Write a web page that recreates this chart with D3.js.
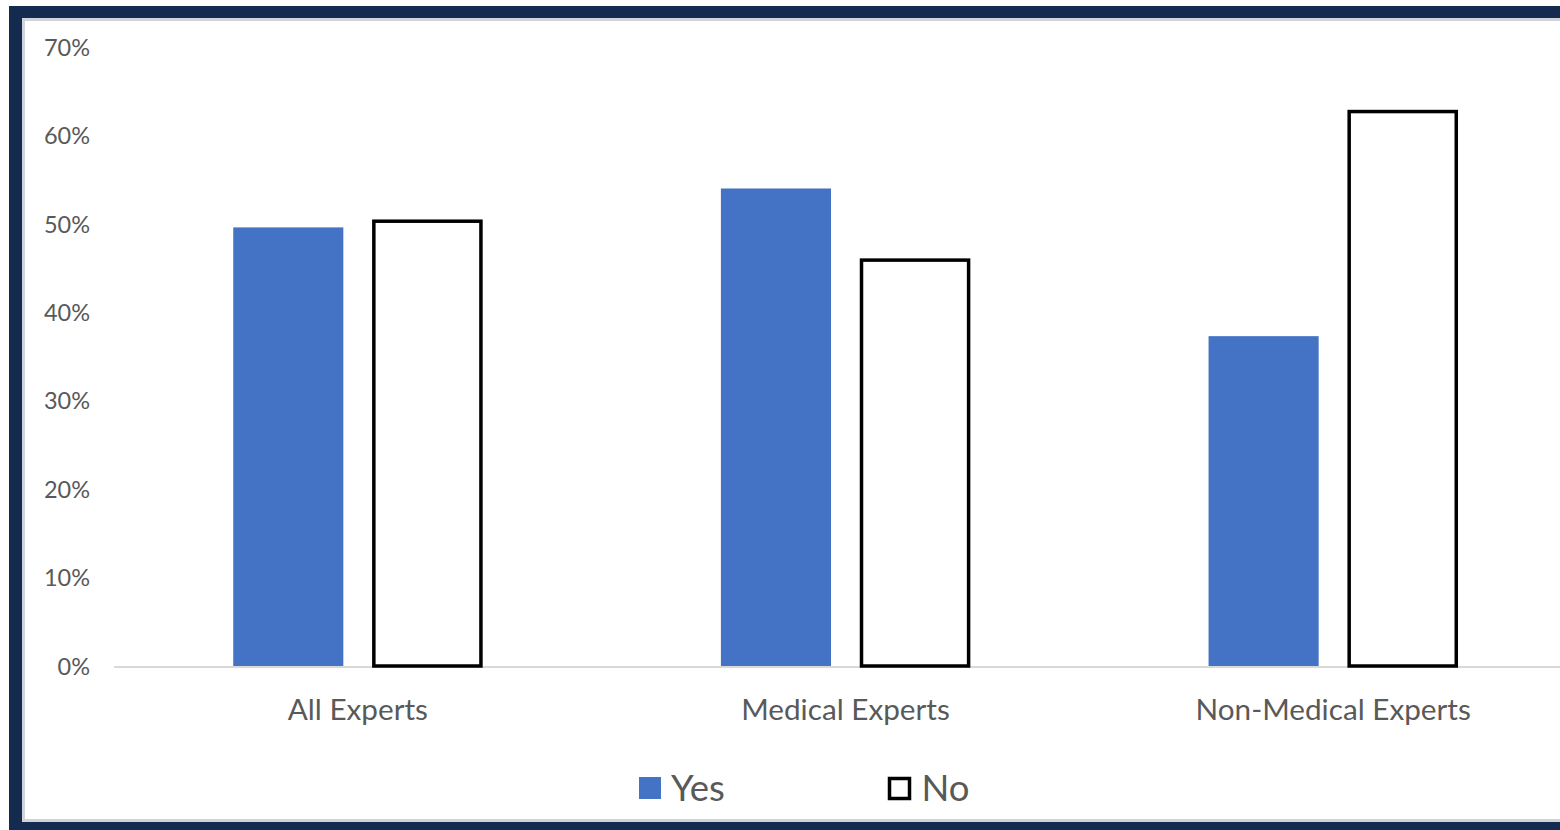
<!DOCTYPE html>
<html><head><meta charset="utf-8">
<script src="https://cdn.jsdelivr.net/npm/d3@7"></script>
<style>html,body{margin:0;padding:0;background:#fff;overflow:hidden}</style>
</head><body>
<svg id="chart" width="1560" height="830"></svg>
<script>
const categories = ["All Experts", "Medical Experts", "Non-Medical Experts"];
const seriesNames = ["Yes", "No"];
const yesValues = [49.6, 54.0, 37.3];
const noValues = [50.3, 45.9, 62.7];
const yTicks = [0, 10, 20, 30, 40, 50, 60, 70];

const svg = d3.select("#chart");
const FONT = "Lato, 'Open Sans', sans-serif";
const TEXT = "#595959";

// frame
svg.append("rect").attr("x", 9).attr("y", 6).attr("width", 1600).attr("height", 900).attr("fill", "#142b4f");
svg.append("rect").attr("x", 23.5).attr("y", 19.5).attr("width", 1600).attr("height", 801)
  .attr("fill", "#fff").attr("stroke", "#d0d4da").attr("stroke-width", 3);

const x0 = d3.scaleBand().domain(categories).range([114, 1577]).paddingInner(0.489).paddingOuter(0.2445);
const x1 = d3.scaleBand().domain(seriesNames).range([0, x0.bandwidth()]).paddingInner(0.2086);
const y = d3.scaleLinear().domain([0, 70]).range([666, 47]);

// y axis labels
const yAxis = d3.axisLeft(y).tickValues(yTicks).tickFormat(d => d + "%").tickSize(0).tickPadding(0);
const yg = svg.append("g").attr("transform", "translate(90,0)").call(yAxis);
yg.select(".domain").remove();
yg.selectAll("text").attr("font-family", FONT).attr("font-size", 23.5).attr("fill", TEXT).attr("dy", "0.35em");

// baseline
svg.append("line").attr("x1", 114).attr("x2", 1577).attr("y1", y(0) + 1).attr("y2", y(0) + 1)
  .attr("stroke", "#d9d9d9").attr("stroke-width", 2);

const rows = categories.map((c, i) => ({cat: c, Yes: yesValues[i], No: noValues[i]}));
const groups = svg.append("g").selectAll("g").data(rows).join("g")
  .attr("transform", d => `translate(${x0(d.cat)},0)`);

groups.append("rect")
  .attr("x", x1("Yes")).attr("width", x1.bandwidth())
  .attr("y", d => y(d.Yes)).attr("height", d => y(0) - y(d.Yes))
  .attr("fill", "#4472C4");

groups.append("rect")
  .attr("x", x1("No") + 1.5).attr("width", x1.bandwidth() - 3)
  .attr("y", d => y(d.No)).attr("height", d => y(0) - y(d.No))
  .attr("fill", "#fff").attr("stroke", "#000").attr("stroke-width", 3.5);

// x axis labels
const xAxis = d3.axisBottom(x0).tickSize(0).tickPadding(0);
const xg = svg.append("g").attr("transform", "translate(0,710)").call(xAxis);
xg.select(".domain").remove();
xg.selectAll("text").attr("font-family", FONT).attr("font-size", 29.7).attr("fill", TEXT).attr("dy", "0.35em");

// legend
const legend = svg.append("g");
const legendItems = [
  {name: "Yes", x: 639, fill: "#4472C4", stroke: "none"},
  {name: "No", x: 889.5, fill: "#fff", stroke: "#000"}
];
legendItems.forEach(it => {
  const g = legend.append("g");
  if (it.stroke === "none") {
    g.append("rect").attr("x", it.x).attr("y", 777).attr("width", 22).attr("height", 22).attr("fill", it.fill);
  } else {
    g.append("rect").attr("x", it.x).attr("y", 778.5).attr("width", 20).attr("height", 20)
      .attr("fill", it.fill).attr("stroke", it.stroke).attr("stroke-width", 3.5);
  }
  g.append("text").attr("x", it.x + 32).attr("y", 788).attr("dy", "0.35em")
    .attr("font-family", FONT).attr("font-size", 36.5).attr("fill", TEXT).text(it.name);
});
</script>
</body></html>
